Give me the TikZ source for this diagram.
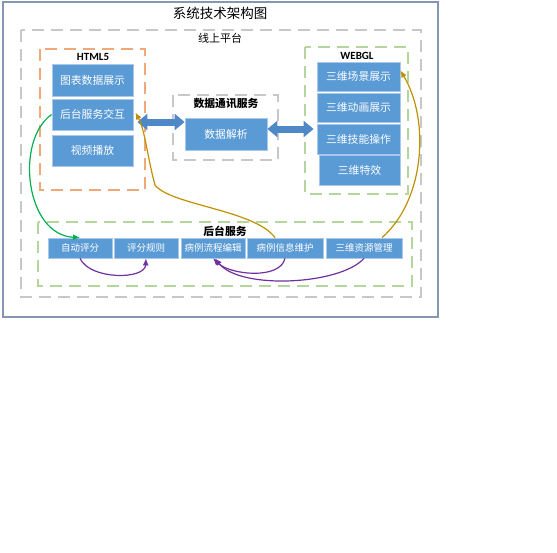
\documentclass[tikz,border=0pt]{standalone}
\usepackage{fontspec}
\setmainfont{Noto Sans CJK SC}
\newfontfamily\latinfont{Carlito}
\usetikzlibrary{arrows.meta}
\definecolor{boxblue}{HTML}{5B9BD5}
\definecolor{boxedge}{HTML}{A9C8EA}
\definecolor{framecol}{HTML}{8497B0}
\definecolor{graydash}{HTML}{C8C8C8}
\definecolor{orangedash}{HTML}{F0A878}
\definecolor{greendash}{HTML}{B4D69C}
\definecolor{arrgreen}{HTML}{00B050}
\definecolor{arrgold}{HTML}{BF9000}
\definecolor{arrpurple}{HTML}{7030A0}
\definecolor{arrblue}{HTML}{4F88C6}
\tikzset{
  box/.style={rectangle,fill=boxblue,draw=boxedge,line width=0.8pt,text=white,inner sep=0pt,
    font=\fontsize{10.8}{12}\selectfont},
  smallbox/.style={box,minimum height=20pt,font=\fontsize{9.5}{11}\selectfont},
  group/.style={line width=1.3pt,dash pattern=on 12pt off 7pt},
  grouplabel/.style={font=\bfseries\fontsize{10.8}{12}\selectfont},
  blockarrow/.style={line width=7pt,draw=arrblue,
    {Triangle[length=10pt,width=16pt]}-{Triangle[length=10pt,width=16pt]}},
  curvearrow/.style={line width=1.2pt,-{Latex[length=7pt,width=6pt]}}
}
\begin{document}
\begin{tikzpicture}[x=1pt,y=-1pt]
\useasboundingbox (0,0) rectangle (557,552);

% outer frame and title
\draw[framecol,line width=1.4pt] (3,2) rectangle (438,317);
\node[font=\fontsize{13.5}{15}\selectfont] (title) at (220,13) {系统技术架构图};

% groups
\draw[group,graydash] (21,30) rectangle (421,297);
\node[font=\fontsize{11}{12}\selectfont] (platform) at (220,38) {线上平台};
\draw[group,orangedash] (40,49) rectangle (145,190);
\node[font=\latinfont\bfseries\fontsize{11}{12}\selectfont] (html) at (93,57) {HTML5};
\draw[group,graydash] (173,95) rectangle (278,160);
\node[grouplabel] (comm) at (226,103) {数据通讯服务};
\draw[group,greendash] (305,47) rectangle (408,194);
\node[font=\latinfont\bfseries\fontsize{11}{12}\selectfont] (webgl) at (357,56) {WEBGL};
\draw[group,greendash] (38,222) rectangle (412,286);
\node[grouplabel] (back) at (225,231) {后台服务};

% HTML5
\node[box,minimum width=81pt,minimum height=32pt] (h1) at (92.5,80) {图表数据展示};
\node[box,minimum width=81pt,minimum height=31pt] (h2) at (92.5,114.5) {后台服务交互};
\node[box,minimum width=81pt,minimum height=31pt] (h3) at (92.5,150.5) {视频播放};

% data service
\node[box,minimum width=82pt,minimum height=32pt] (parse) at (226,134) {数据解析};

% WEBGL
\node[box,minimum width=83pt,minimum height=29pt] (s1) at (358.5,76.5) {三维场景展示};
\node[box,minimum width=83pt,minimum height=29pt] (s2) at (358.5,107.5) {三维动画展示};
\node[box,minimum width=83pt,minimum height=30pt] (s3) at (358.5,139) {三维技能操作};
\node[box,minimum width=81pt,minimum height=30pt] (s4) at (359.5,170.5) {三维特效};

% backend
\node[smallbox,minimum width=64pt] (a1) at (80,248) {自动评分};
\node[smallbox,minimum width=64pt] (rule) at (146,248) {评分规则};
\node[smallbox,minimum width=64pt] (flow) at (213,248) {病例流程编辑};
\node[smallbox,minimum width=76pt] (info) at (285,248) {病例信息维护};
\node[smallbox,minimum width=76pt] (res) at (364,248) {三维资源管理};

% block arrows
\draw[blockarrow] ([xshift=4pt]h2.east |- 0,122) -- (parse.west |- 0,122);
\draw[blockarrow] (parse.east |- 0,129) -- ([xshift=-3pt]s3.west |- 0,129);

% curved links
\draw[curvearrow,arrgreen] (h2.west) .. controls (15,140) and (25,235) .. (a1.north);
\draw[curvearrow,arrgold] ([xshift=-10pt]info.north) .. controls (255,210) and (170,205) .. (155,185)
  .. controls (148,160) and (145,130) .. ([xshift=2pt,yshift=2pt]h2.east);
\draw[curvearrow,arrgold] ([xshift=18pt]res.north) .. controls (425,200) and (430,120) .. ([yshift=6pt]s1.east);
\draw[curvearrow,arrpurple] (a1.south) .. controls (90,280) and (145,280) .. (rule.south);
\draw[curvearrow,arrpurple] (info.south) .. controls (280,280) and (230,275) .. (flow.south);
\draw[curvearrow,arrpurple] (res.south) .. controls (340,285) and (240,290) .. ([xshift=2pt]flow.south);
\end{tikzpicture}
\end{document}
